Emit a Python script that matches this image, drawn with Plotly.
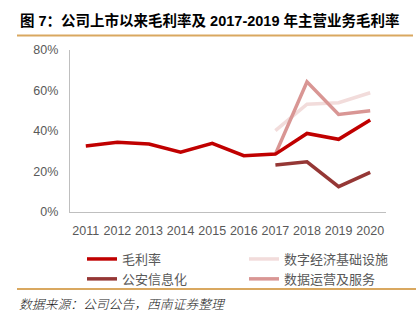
import plotly.graph_objects as go

years = ["2011", "2012", "2013", "2014", "2015", "2016", "2017", "2018", "2019", "2020"]
gross_margin = [0.326, 0.344, 0.336, 0.295, 0.339, 0.278, 0.286, 0.388, 0.359, 0.454]
sub_years = ["2017", "2018", "2019", "2020"]
public_security = [0.232, 0.248, 0.125, 0.196]
digital_infra = [0.402, 0.532, 0.540, 0.589]
data_ops = [0.286, 0.643, 0.482, 0.500]

CJK = "Liberation Sans, Noto Sans CJK SC"
GRAY = "#595959"
L, R, T, B = 70, 386, 50, 212


def px(x):
    return (x - L) / (R - L)


def py(y):
    return (B - y) / (B - T)


fig = go.Figure()
fig.add_trace(go.Scatter(x=sub_years, y=digital_infra, mode="lines", name="数字经济基础设施",
                         line=dict(color="#F2DCDB", width=3.5), legend="legend2"))
fig.add_trace(go.Scatter(x=sub_years, y=data_ops, mode="lines", name="数据运营及服务",
                         line=dict(color="#D99694", width=3.5), legend="legend2"))
fig.add_trace(go.Scatter(x=years, y=gross_margin, mode="lines", name="毛利率",
                         line=dict(color="#C00000", width=3.5), legend="legend"))
fig.add_trace(go.Scatter(x=sub_years, y=public_security, mode="lines", name="公安信息化",
                         line=dict(color="#953735", width=3.5), legend="legend"))

fig.update_layout(
    width=419, height=324,
    margin=dict(l=L, r=419 - R, t=T, b=324 - B, autoexpand=False),
    paper_bgcolor="white", plot_bgcolor="white",
    font=dict(family=CJK, color=GRAY, size=12.5),
    showlegend=True,
    legend=dict(x=px(82), y=py(244), xanchor="left", yanchor="top",
                traceorder="normal", font=dict(size=13, color=GRAY), tracegroupgap=0,
                itemwidth=30, bgcolor="rgba(0,0,0,0)"),
    legend2=dict(x=px(244), y=py(244), xanchor="left", yanchor="top",
                 traceorder="normal", font=dict(size=13, color=GRAY), tracegroupgap=0,
                 itemwidth=30, bgcolor="rgba(0,0,0,0)"),
    xaxis=dict(type="category", categoryorder="array", categoryarray=years,
               range=[-0.5, 9.5], showline=True, linecolor="#BFBFBF", linewidth=1.3,
               showgrid=False, ticks="outside", ticklen=7, tickcolor="rgba(0,0,0,0)",
               tickangle=0, automargin=False,
               tickfont=dict(size=12.5, color=GRAY), fixedrange=True),
    yaxis=dict(range=[0, 0.8], tickvals=[0, 0.2, 0.4, 0.6, 0.8], tickformat=".0%",
               showline=True, linecolor="#BFBFBF", linewidth=1.3, showgrid=False, zeroline=False,
               ticks="outside", ticklen=8, tickcolor="rgba(0,0,0,0)", automargin=False,
               tickfont=dict(size=12.5, color=GRAY), fixedrange=True),
    shapes=[
        dict(type="line", xref="paper", yref="paper", x0=px(17), x1=px(413), y0=py(35.5), y1=py(35.5),
             line=dict(color="#D9A860", width=2)),
        dict(type="line", xref="paper", yref="paper", x0=px(17), x1=px(416), y0=py(289), y1=py(289),
             line=dict(color="#D9A860", width=2)),
    ],
    annotations=[
        dict(text="<b>图 7：公司上市以来毛利率及 2017-2019 年主营业务毛利率</b>", xref="paper", yref="paper",
             x=px(18), y=py(20), xanchor="left", yanchor="middle", showarrow=False,
             font=dict(size=14.5, color="black", family=CJK)),
        dict(text="<i>数据来源：公司公告，西南证券整理</i>", xref="paper", yref="paper",
             x=px(17), y=py(304), xanchor="left", yanchor="middle", showarrow=False,
             font=dict(size=12.8, color="#222222", family=CJK, weight=300)),
    ],
)

fig.write_html("out.html")
